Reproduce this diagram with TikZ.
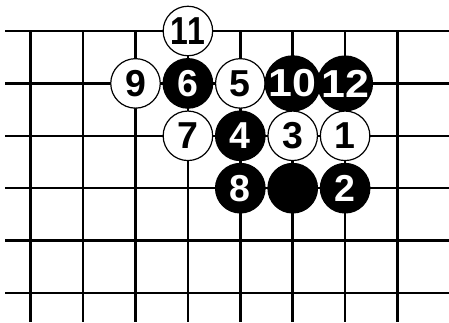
\documentclass[tikz,border=0pt]{standalone}
\usepackage{fontspec}
\setmainfont{Liberation Sans}
\usepackage{graphicx}
\newcommand{\onedig}[1]{\fontsize{37.5}{37.5}\selectfont\bfseries #1}
\newcommand{\digsc}[2]{\scalebox{#1}[1]{\fontsize{39}{39}\selectfont\bfseries #2}}
\tikzset{
  gridline/.style={line width=2.5pt, black},
  wstone/.style={circle, draw=black, line width=1.2pt, fill=white, text=black, minimum size=49.5pt, inner sep=0pt},
  bstone/.style={circle, draw=black, line width=1.2pt, fill=black, text=white, minimum size=49.5pt, inner sep=0pt}
}
\begin{document}
\begin{tikzpicture}[x=1pt,y=1pt]
\useasboundingbox (0,0) rectangle (449,322);
% grid
\foreach \j in {0,...,5} {
  \draw[gridline] (5,{322-(31+52.4*\j)}) -- (449,{322-(31+52.4*\j)});
}
\foreach \i in {0,...,7} {
  \draw[gridline] ({30.7+52.4*\i},{322-31}) -- ({30.7+52.4*\i},0);
}
% stones (column i, row j)
\node[wstone] (s11) at ({30.7+52.4*3},{322-(31+52.4*0)}) {\digsc{0.82}{11}};
\node[wstone] (s9) at ({30.7+52.4*2},{322-(31+52.4*1)}) {\onedig{9}};
\node[bstone] (s6) at ({30.7+52.4*3},{322-(31+52.4*1)}) {\onedig{6}};
\node[wstone] (s5) at ({30.7+52.4*4},{322-(31+52.4*1)}) {\onedig{5}};
\node[bstone] (s10) at ({30.7+52.4*5},{322-(31+52.4*1)}) {\digsc{1.1}{10}};
\node[bstone] (s12) at ({30.7+52.4*6},{322-(31+52.4*1)}) {\digsc{1.1}{12}};
\node[wstone] (s7) at ({30.7+52.4*3},{322-(31+52.4*2)}) {\onedig{7}};
\node[bstone] (s4) at ({30.7+52.4*4},{322-(31+52.4*2)}) {\onedig{4}};
\node[wstone] (s3) at ({30.7+52.4*5},{322-(31+52.4*2)}) {\onedig{3}};
\node[wstone] (s1) at ({30.7+52.4*6},{322-(31+52.4*2)}) {\onedig{1}};
\node[bstone] (s8) at ({30.7+52.4*4},{322-(31+52.4*3)}) {\onedig{8}};
\node[bstone] (s0) at ({30.7+52.4*5},{322-(31+52.4*3)}) {};
\node[bstone] (s2) at ({30.7+52.4*6},{322-(31+52.4*3)}) {\onedig{2}};
\end{tikzpicture}
\end{document}
